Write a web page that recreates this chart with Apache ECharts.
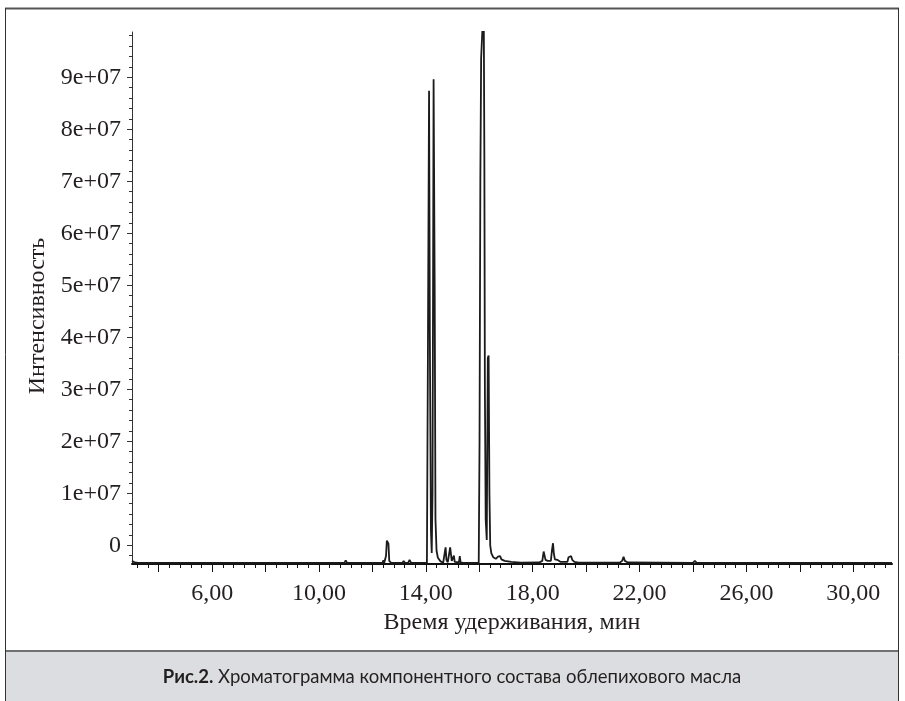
<!DOCTYPE html>
<html>
<head>
<meta charset="utf-8">
<title>Хроматограмма</title>
<script src="https://cdn.jsdelivr.net/npm/echarts/dist/echarts.min.js"></script>
<style>
  html, body { margin: 0; padding: 0; background: #fff; }
  #chart { width: 905px; height: 701px; }
</style>
</head>
<body>
<div id="chart"></div>
<script>
// retention time, min
const retentionTime = [
  3.00, 3.10, 3.25, 10.95, 11.00, 11.05,
  12.38, 12.41, 12.44, 12.51, 12.54, 12.57, 12.60, 12.63, 12.70,
  13.12, 13.17, 13.22, 13.34, 13.39, 13.45,
  14.04, 14.08, 14.12, 14.15, 14.19, 14.22, 14.25, 14.29, 14.33, 14.36, 14.40, 14.45, 14.55, 14.65,
  14.70, 14.72, 14.74, 14.77, 14.82, 14.88, 14.91, 14.94, 14.97, 15.02, 15.05, 15.08, 15.13, 15.24, 15.27, 15.30, 15.40,
  15.98, 16.01, 16.04, 16.07, 16.09, 16.12, 16.15, 16.17, 16.19, 16.21, 16.24, 16.28,
  16.32, 16.35, 16.38, 16.41, 16.45, 16.52, 16.62, 16.70, 16.74, 16.78, 16.83, 16.95, 17.20, 17.55,
  18.25, 18.36, 18.41, 18.44, 18.48, 18.56, 18.68, 18.72, 18.76, 18.79, 18.83, 18.92, 19.05,
  19.30, 19.34, 19.38, 19.44, 19.48, 19.56, 19.72,
  21.25, 21.35, 21.40, 21.45, 21.56,
  24.00, 24.07, 24.14, 31.45
];
// intensity
const intensity = [
  -3.0e6, -3.3e6, -3.4e6, -3.4e6, -2.9e6, -3.4e6,
  -3.4e6, -2.9e6, -3.4e6, -2.0e6, 0.9e6, 1.0e6, 0.3e6, -3.0e6, -3.4e6,
  -3.4e6, -3.0e6, -3.4e6, -3.4e6, -2.8e6, -3.4e6,
  -3.4e6, 40e6, 87.4e6, 40e6, 3e6, -1.5e6, 10e6, 89.6e6, 50e6, 5e6, -1.0e6, -2.4e6, -3.1e6, -3.35e6,
  -3.4e6, -1.0e6, -0.4e6, -2.8e6, -3.3e6, -3.3e6, -0.4e6, -0.5e6, -3.0e6, -3.2e6, -2.0e6, -3.2e6, -3.3e6, -3.3e6, -2.1e6, -3.3e6, -3.4e6,
  -3.4e6, 20e6, 70e6, 93.7e6, 94e6, 99.5e6, 98e6, 99.5e6, 75e6, 30e6, 5e6, 1.0e6,
  36e6, 36.5e6, 10e6, 0e6, -1.5e6, -2.3e6, -2.6e6, -2.2e6, -2.5e6, -2.1e6, -2.7e6, -3.0e6, -3.2e6, -3.35e6,
  -3.3e6, -3.0e6, -1.2e6, -1.0e6, -2.8e6, -3.0e6, -3.0e6, -1.0e6, 0.4e6, -1.5e6, -2.7e6, -2.8e6, -3.2e6,
  -3.2e6, -2.3e6, -2.6e6, -2.1e6, -2.8e6, -3.2e6, -3.35e6,
  -3.35e6, -3.0e6, -2.2e6, -3.0e6, -3.3e6,
  -3.4e6, -3.0e6, -3.4e6, -3.4e6
];

const xTicks = [4, 6, 8, 10, 12, 14, 16, 18, 20, 22, 24, 26, 28, 30];
const xLabels = [6, 10, 14, 18, 22, 26, 30];
const yTicks = [0, 1e7, 2e7, 3e7, 4e7, 5e7, 6e7, 7e7, 8e7, 9e7];

const xMinor = [];
for (let v = 3.2; v < 31.45; v += 0.4) xMinor.push(+v.toFixed(1));
const yMinor = [];
for (let v = -2e6; v < 9.87e7; v += 2e6) yMinor.push(v);

const serif = 'Liberation Serif';
const ink = '#231f20';

const chart = echarts.init(document.getElementById('chart'));

const option = {
  animation: false,
  backgroundColor: '#fff',
  grid: { left: 132, top: 32, right: 13, bottom: 137, containLabel: false, outerBoundsMode: 'none' },
  xAxis: [
    {
      type: 'value', min: 3.0, max: 31.45, position: 'bottom',
      axisLine: { show: true, onZero: false, lineStyle: { color: '#111', width: 2 } },
      axisTick: { show: true, customValues: xTicks, length: 8, lineStyle: { color: '#111', width: 1 } },
      axisLabel: {
        customValues: xLabels, margin: 18, color: ink, fontFamily: serif, fontSize: 24,
        formatter: v => v.toFixed(2).replace('.', ',')
      },
      splitLine: { show: false },
      name: 'Время удерживания, мин', nameLocation: 'middle', nameGap: 36,
      nameTextStyle: { color: ink, fontFamily: serif, fontSize: 24 }
    },
    {
      type: 'value', min: 3.0, max: 31.45, position: 'bottom',
      axisLine: { show: false, onZero: false },
      axisTick: { show: true, customValues: xMinor, length: 4, lineStyle: { color: '#111', width: 1 } },
      axisLabel: { show: false },
      splitLine: { show: false }
    }
  ],
  yAxis: [
    {
      type: 'value', min: -3.6e6, max: 9.87e7, position: 'left',
      axisLine: { show: true, onZero: false, lineStyle: { color: '#333', width: 1 } },
      axisTick: { show: true, customValues: yTicks, length: 5, lineStyle: { color: '#333' } },
      axisLabel: {
        customValues: yTicks, margin: 11, color: ink, fontFamily: serif, fontSize: 24,
        formatter: v => v === 0 ? '0' : Math.round(v / 1e7) + 'e+07'
      },
      splitLine: { show: false },
      name: 'Интенсивность', nameLocation: 'middle', nameRotate: 90, nameGap: 79,
      nameTextStyle: { color: ink, fontFamily: serif, fontSize: 24, padding: [0, 36, 0, 0] }
    },
    {
      type: 'value', min: -3.6e6, max: 9.87e7, position: 'left',
      axisLine: { show: false, onZero: false },
      axisTick: { show: true, customValues: yMinor, length: 3, lineStyle: { color: '#333' } },
      axisLabel: { show: false },
      splitLine: { show: false }
    }
  ],
  series: [
    {
      type: 'line',
      data: retentionTime.map((t, i) => [t, intensity[i]]),
      showSymbol: false,
      clip: true,
      silent: true,
      lineStyle: { color: '#1b1b1b', width: 1.8 }
    }
  ],
  graphic: [
    { type: 'rect', shape: { x: 5, y: 652, width: 894, height: 49 }, style: { fill: '#dcdde0' }, silent: true },
    { type: 'line', shape: { x1: 5, y1: 651, x2: 899, y2: 651 }, style: { stroke: '#707070', lineWidth: 2 }, silent: true },
    { type: 'line', shape: { x1: 5, y1: 8.5, x2: 899, y2: 8.5 }, style: { stroke: '#555', lineWidth: 2 }, silent: true },
    { type: 'line', shape: { x1: 5.5, y1: 8, x2: 5.5, y2: 701 }, style: { stroke: '#333', lineWidth: 1 }, silent: true },
    { type: 'line', shape: { x1: 898.5, y1: 8, x2: 898.5, y2: 701 }, style: { stroke: '#333', lineWidth: 1 }, silent: true },
    {
      type: 'text', x: 452, y: 677, silent: true,
      style: {
        text: '{b|Рис.2.} Хроматограмма компонентного состава облепихового масла',
        align: 'center', verticalAlign: 'middle',
        fontFamily: 'Lato', fontSize: 18.5, fill: ink,
        rich: { b: { fontFamily: 'Lato', fontWeight: 'bold', fontSize: 18.5, fill: ink } }
      }
    }
  ]
};

chart.setOption(option);
</script>
</body>
</html>
